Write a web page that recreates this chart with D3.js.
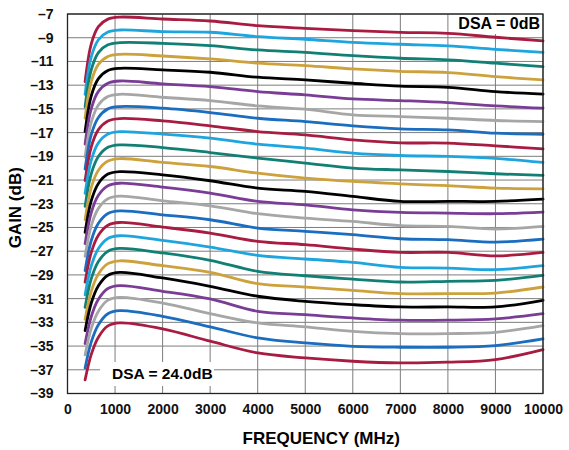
<!DOCTYPE html>
<html>
<head>
    <meta charset="utf-8">
    <title>Gain vs Frequency</title>
    <script src="https://d3js.org/d3.v7.min.js"></script>
    <style>
        body { margin: 0; background: #fff; }
        text { font-family: "Liberation Sans", Arial, sans-serif; font-weight: bold; }
    </style>
</head>
<body>
    <script>
        // frequency points (MHz) where the curves were read
        var freqs = [370, 500, 650, 850, 1100, 2000, 3000, 4000, 5000, 6000, 7000, 8000, 9000, 10000];

        // gain (dB) per DSA setting, 0 dB .. 24 dB
        var gains = [
            [-12.71, -9.51, -8.06, -7.43, -7.26, -7.42, -7.59, -7.98, -8.21, -8.40, -8.55, -8.63, -8.96, -9.27],
            [-13.77, -10.62, -9.17, -8.52, -8.35, -8.49, -8.54, -8.91, -9.13, -9.39, -9.55, -9.69, -9.98, -10.23],
            [-14.82, -11.70, -10.25, -9.60, -9.42, -9.47, -9.67, -10.03, -10.23, -10.51, -10.73, -10.87, -11.15, -11.44],
            [-15.77, -12.70, -11.25, -10.58, -10.40, -10.54, -10.79, -11.15, -11.35, -11.63, -11.83, -11.94, -12.28, -12.56],
            [-16.92, -13.90, -12.45, -11.76, -11.58, -11.71, -11.91, -12.33, -12.56, -12.84, -13.09, -13.18, -13.54, -13.76],
            [-17.97, -14.98, -13.53, -12.84, -12.65, -12.89, -13.12, -13.54, -13.82, -14.16, -14.30, -14.47, -14.75, -14.94],
            [-19.06, -16.12, -14.67, -13.96, -13.77, -14.02, -14.30, -14.75, -15.03, -15.50, -15.65, -15.79, -15.98, -16.07],
            [-20.07, -17.18, -15.73, -15.00, -14.81, -14.94, -15.31, -15.79, -16.07, -16.43, -16.68, -16.77, -17.05, -17.14],
            [-21.05, -18.20, -16.75, -16.02, -15.82, -16.01, -16.43, -16.91, -17.19, -17.61, -17.86, -17.89, -18.12, -18.37],
            [-22.13, -19.32, -17.87, -17.12, -16.92, -17.13, -17.47, -17.98, -18.31, -18.73, -18.93, -19.01, -19.18, -19.52],
            [-23.22, -20.46, -19.01, -18.24, -18.04, -18.26, -18.68, -19.15, -19.57, -19.99, -20.15, -20.28, -20.47, -20.61],
            [-24.34, -21.62, -20.17, -19.40, -19.19, -19.52, -19.86, -20.42, -20.84, -21.12, -21.32, -21.48, -21.68, -21.74],
            [-25.42, -22.74, -21.29, -20.50, -20.29, -20.56, -21.06, -21.68, -21.96, -22.38, -22.80, -22.80, -22.80, -22.61],
            [-26.37, -23.74, -22.29, -21.48, -21.27, -21.60, -22.10, -22.80, -23.09, -23.51, -23.73, -23.79, -23.84, -23.70],
            [-27.43, -24.84, -23.39, -22.58, -22.36, -22.75, -23.17, -23.84, -24.21, -24.49, -24.85, -24.91, -25.13, -24.91],
            [-28.64, -26.10, -24.65, -23.82, -23.60, -23.93, -24.35, -25.05, -25.33, -25.61, -25.95, -26.03, -26.23, -25.98],
            [-29.60, -27.10, -25.65, -24.81, -24.58, -24.97, -25.47, -26.17, -26.45, -26.82, -27.10, -27.10, -27.39, -27.10],
            [-30.69, -28.23, -26.78, -25.93, -25.70, -26.09, -26.65, -27.35, -27.66, -27.94, -28.36, -28.42, -28.56, -28.22],
            [-31.73, -29.32, -27.87, -27.00, -26.77, -27.15, -27.77, -28.70, -29.07, -29.35, -29.60, -29.54, -29.46, -29.04],
            [-32.75, -30.38, -28.93, -28.05, -27.81, -28.22, -28.78, -29.74, -30.02, -30.30, -30.58, -30.58, -30.53, -30.02],
            [-33.70, -31.37, -29.92, -29.03, -28.79, -29.26, -29.96, -30.80, -31.23, -31.51, -31.70, -31.70, -31.70, -31.14],
            [-34.79, -32.51, -31.06, -30.15, -29.91, -30.38, -31.03, -32.07, -32.35, -32.63, -32.82, -32.82, -32.71, -32.27],
            [-35.75, -33.51, -32.06, -31.13, -30.89, -31.37, -32.26, -33.05, -33.39, -33.76, -33.95, -33.95, -33.84, -33.28],
            [-36.85, -34.65, -33.20, -32.27, -32.02, -32.49, -33.38, -34.31, -34.74, -35.02, -35.10, -35.10, -34.96, -34.40],
            [-37.85, -35.70, -34.25, -33.30, -33.05, -33.55, -34.59, -35.58, -36.00, -36.28, -36.42, -36.36, -36.14, -35.30]
        ];

        // colour cycle used for the DSA steps
        var palette = ["#a81c42", "#1fa5de", "#117f73", "#cda23c", "#000000", "#7a3d96", "#a6a6a6", "#1b6dbf"];

        var xTicks = [0, 1000, 2000, 3000, 4000, 5000, 6000, 7000, 8000, 9000, 10000];
        var yTicks = [-7, -9, -11, -13, -15, -17, -19, -21, -23, -25, -27, -29, -31, -33, -35, -37, -39];

        var width = 569, height = 450;
        var margin = {top: 14, right: 26, bottom: 56.5, left: 67.5};

        var svg = d3.select("body")
                    .append("svg")
                    .attr("width", width)
                    .attr("height", height);

        var x = d3.scaleLinear().domain([0, 10000]).range([margin.left, width - margin.right]);
        var y = d3.scaleLinear().domain([-39, -7]).range([height - margin.bottom, margin.top]);

        // grid
        var grid = svg.append("g").attr("stroke", "#7d7d7d").attr("stroke-width", 1);
        grid.selectAll("line.h")
            .data(yTicks)
            .join("line")
            .attr("class", "h")
            .attr("x1", x(0)).attr("x2", x(10000))
            .attr("y1", d => y(d)).attr("y2", d => y(d));
        grid.selectAll("line.v")
            .data(xTicks)
            .join("line")
            .attr("class", "v")
            .attr("x1", d => x(d)).attr("x2", d => x(d))
            .attr("y1", y(-7)).attr("y2", y(-39));

        // white boxes behind the two labels (they hide the grid)
        svg.append("rect").attr("x", 450).attr("y", y(-7) + 1).attr("width", 92).attr("height", 19).attr("fill", "#fff");
        svg.append("rect").attr("x", 100).attr("y", 362).attr("width", 114).attr("height", 24).attr("fill", "#fff");

        // curves
        var line = d3.line()
                     .x((d, i) => x(freqs[i]))
                     .y(d => y(d))
                     .curve(d3.curveCatmullRom.alpha(0.5));

        svg.append("g")
           .attr("fill", "none")
           .attr("stroke-width", 2.8)
           .attr("stroke-linecap", "round")
           .selectAll("path")
           .data(gains)
           .join("path")
           .attr("stroke", (d, i) => palette[i % palette.length])
           .attr("d", line);

        // frame
        svg.append("rect")
           .attr("x", x(0)).attr("y", y(-7))
           .attr("width", x(10000) - x(0))
           .attr("height", y(-39) - y(-7))
           .attr("fill", "none")
           .attr("stroke", "#222")
           .attr("stroke-width", 1.3);

        svg.append("text")
           .attr("x", 540).attr("y", 29)
           .attr("text-anchor", "end")
           .attr("font-size", 16)
           .text("DSA = 0dB");

        svg.append("text")
           .attr("x", 112).attr("y", 379)
           .attr("font-size", 15.5)
           .text("DSA = 24.0dB");

        // axes
        var yAxis = d3.axisLeft(y).tickValues(yTicks).tickSize(0).tickPadding(14)
                      .tickFormat(d => "\u2013" + Math.abs(d));
        var gy = svg.append("g").attr("transform", `translate(${margin.left},0)`).call(yAxis);
        gy.select(".domain").remove();
        gy.selectAll("text").attr("font-size", 14).attr("fill", "#111");

        var xAxis = d3.axisBottom(x).tickValues(xTicks).tickSize(0).tickPadding(10.5)
                      .tickFormat(d => d);
        var gx = svg.append("g").attr("transform", `translate(0,${height - margin.bottom})`).call(xAxis);
        gx.select(".domain").remove();
        gx.selectAll("text").attr("font-size", 14).attr("fill", "#111");

        svg.append("text")
           .attr("x", (x(0) + x(10000)) / 2 + 16).attr("y", 444)
           .attr("text-anchor", "middle")
           .attr("font-size", 17)
           .text("FREQUENCY (MHz)");

        svg.append("text")
           .attr("transform", `translate(21,${(y(-7) + y(-39)) / 2 + 4}) rotate(-90)`)
           .attr("text-anchor", "middle")
           .attr("font-size", 17)
           .text("GAIN (dB)");
    </script>
</body>
</html>
